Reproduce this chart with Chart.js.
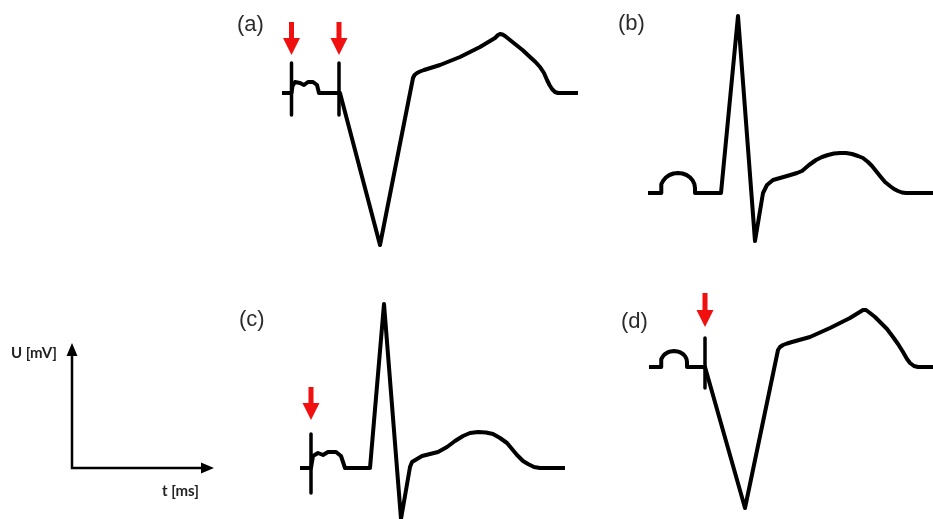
<!DOCTYPE html>
<html>
<head>
<meta charset="utf-8">
<script src="https://cdn.jsdelivr.net/npm/chart.js@4/dist/chart.umd.min.js"></script>
<style>
  body { margin: 0; width: 933px; height: 519px; position: relative; background: #fff; overflow: hidden; }
  canvas { position: absolute; }
  .lbl { position: absolute; font-family: Arial, 'Liberation Sans', sans-serif; font-size: 22px; line-height: 22px; color: #2b2b2b; }
  .ax { position: absolute; font-family: Lato, 'Open Sans', sans-serif; font-weight: bold; font-size: 15px; line-height: 15px; color: #222; }
</style>
</head>
<body>
<canvas id="panelA" width="360" height="260" style="left:230px;top:0px"></canvas>
<canvas id="panelB" width="333" height="260" style="left:600px;top:0px"></canvas>
<canvas id="panelC" width="360" height="239" style="left:230px;top:280px"></canvas>
<canvas id="panelD" width="333" height="239" style="left:600px;top:280px"></canvas>
<canvas id="axesKey" width="230" height="189" style="left:0px;top:330px"></canvas>

<div class="lbl" style="left:237px;top:13px">(a)</div>
<div class="lbl" style="left:618px;top:12px">(b)</div>
<div class="lbl" style="left:239px;top:308px">(c)</div>
<div class="lbl" style="left:621px;top:310px">(d)</div>
<div class="ax" style="left:11px;top:345px">U [mV]</div>
<div class="ax" style="left:162px;top:483px">t [ms]</div>

<script>
// ECG traces: time in ms from the start of each trace, voltage in mV from baseline
const timeA = [0, 19, 21, 26, 36, 44, 52, 62, 70, 74, 116, 196, 262, 265, 270, 276, 284, 316, 356, 396, 426, 432, 436, 441, 446, 456, 466, 481, 496, 507, 516, 524, 530, 535, 540, 546, 552, 592];
const voltA = [0, 0, 0.07, 0.11, 0.10, 0.08, 0.11, 0.11, 0.08, 0, 0, -1.52, 0.15, 0.18, 0.20, 0.215, 0.23, 0.28, 0.36, 0.46, 0.55, 0.58, 0.59, 0.585, 0.57, 0.53, 0.49, 0.43, 0.36, 0.31, 0.26, 0.20, 0.13, 0.08, 0.04, 0.01, 0, 0];

const timeB = [0, 26, 26, 27.2, 30.6, 36, 43, 51.2, 60, 68.8, 77, 84, 89.4, 92.8, 94, 94, 146, 180, 214, 230, 238, 250, 278, 298, 308, 322, 336, 348, 360, 372, 384, 396, 408, 420, 430, 440, 448, 456, 464, 474, 484, 492, 500, 508, 516, 570];
const voltB = [0, 0, 0.05, 0.089, 0.125, 0.156, 0.18, 0.195, 0.20, 0.195, 0.18, 0.156, 0.125, 0.089, 0.05, 0, 0, 1.77, -0.48, 0, 0.08, 0.13, 0.17, 0.20, 0.22, 0.28, 0.33, 0.36, 0.38, 0.395, 0.40, 0.40, 0.39, 0.37, 0.35, 0.31, 0.27, 0.22, 0.17, 0.11, 0.07, 0.04, 0.02, 0.005, 0, 0];

const timeC = [0, 22, 26, 36, 46, 56, 72, 82, 90, 140, 168, 202, 220, 224, 244, 276, 294, 310, 326, 340, 356, 372, 386, 400, 414, 424, 434, 446, 456, 468, 480, 530];
const voltC = [0, 0, 0.12, 0.15, 0.13, 0.16, 0.16, 0.12, 0, 0, 1.64, -0.51, 0.01, 0.06, 0.12, 0.16, 0.21, 0.27, 0.32, 0.35, 0.36, 0.355, 0.34, 0.30, 0.25, 0.19, 0.13, 0.07, 0.04, 0.01, 0, 0];

const timeD = [0, 24, 24, 24.9, 27.5, 31.6, 37, 43.3, 50, 56.7, 63, 68.4, 72.5, 75.1, 76, 76, 112, 192, 258, 262, 268, 276, 286, 322, 362, 402, 428, 434, 442, 452, 462, 476, 488, 498, 508, 516, 522, 530, 538, 568];
const voltD = [0, 0, 0.05, 0.078, 0.105, 0.128, 0.145, 0.156, 0.16, 0.156, 0.145, 0.128, 0.105, 0.078, 0.05, 0, 0, -1.41, 0.17, 0.20, 0.22, 0.235, 0.25, 0.30, 0.39, 0.49, 0.57, 0.57, 0.54, 0.50, 0.45, 0.38, 0.30, 0.23, 0.15, 0.08, 0.04, 0.01, 0, 0];

// stimulus markers (vertical bars) and red arrows above them
const markerTimesA = [19, 114];
const markerTimesC = [22];
const markerTimesD = [112];
const markerTop = { A: 0.30, C: 0.34, D: 0.29 };
const markerBottom = { A: -0.22, C: -0.25, D: -0.21 };
const arrowTip = { A: 0.38, C: 0.48, D: 0.40 };
const arrowTail = { A: 0.71, C: 0.81, D: 0.74 };

const MS_PER_PX = 2;
const MV_PER_PX = 0.01;

// red stimulus arrows, positioned with the panel's scales
const arrowPlugin = {
    id: 'redArrows',
    afterDatasetsDraw(chart, args, opts) {
        const { ctx } = chart;
        const x = chart.scales.x, y = chart.scales.y;
        (opts.times || []).forEach(t => {
            const px = x.getPixelForValue(t);
            const tip = y.getPixelForValue(opts.tip);
            const top = y.getPixelForValue(opts.tail);
            const headH = 17, headW = 17, shaft = 5;
            ctx.save();
            ctx.fillStyle = '#f01010';
            ctx.beginPath();
            ctx.moveTo(px - shaft / 2, top);
            ctx.lineTo(px + shaft / 2, top);
            ctx.lineTo(px + shaft / 2, tip - headH);
            ctx.lineTo(px + headW / 2, tip - headH);
            ctx.lineTo(px, tip);
            ctx.lineTo(px - headW / 2, tip - headH);
            ctx.lineTo(px - shaft / 2, tip - headH);
            ctx.closePath();
            ctx.fill();
            ctx.restore();
        });
    }
};

function makePanel(id, times, volts, origin, markers, key) {
    const canvas = document.getElementById(id);
    const left = parseFloat(canvas.style.left), top = parseFloat(canvas.style.top);
    const w = canvas.width, h = canvas.height;

    const lineStyle = {
        borderColor: '#000',
        borderWidth: 4,
        borderJoinStyle: 'round',
        borderCapStyle: 'butt',
        pointRadius: 0,
        showLine: true,
        tension: 0,
        clip: false
    };

    const datasets = [{
        ...lineStyle,
        data: times.map((t, i) => ({ x: t, y: volts[i] }))
    }];
    markers.forEach(t => {
        datasets.push({
            ...lineStyle,
            borderWidth: 3.5,
            data: [{ x: t, y: markerTop[key] }, { x: t, y: markerBottom[key] }]
        });
    });

    new Chart(canvas, {
        type: 'scatter',
        data: { datasets: datasets },
        options: {
            responsive: false,
            animation: false,
            events: [],
            layout: { padding: 0 },
            plugins: {
                legend: { display: false },
                tooltip: { enabled: false },
                redArrows: markers.length ? { times: markers, tip: arrowTip[key], tail: arrowTail[key] } : {}
            },
            scales: {
                x: {
                    display: false,
                    min: (left - origin[0]) * MS_PER_PX,
                    max: (left + w - origin[0]) * MS_PER_PX
                },
                y: {
                    display: false,
                    max: (origin[1] - top) * MV_PER_PX,
                    min: (origin[1] - top - h) * MV_PER_PX
                }
            }
        },
        plugins: [arrowPlugin]
    });
}

// page position of each trace's (t = 0, U = 0)
makePanel('panelA', timeA, voltA, [282, 93], markerTimesA, 'A');
makePanel('panelB', timeB, voltB, [648, 193], [], 'B');
makePanel('panelC', timeC, voltC, [300, 468], markerTimesC, 'C');
makePanel('panelD', timeD, voltD, [649, 367], markerTimesD, 'D');

// U/t key: two arrows along the chart area's left and bottom edges
const axesKeyPlugin = {
    id: 'axesKey',
    afterDraw(chart) {
        const { ctx, chartArea: a } = chart;
        ctx.save();
        ctx.strokeStyle = '#000';
        ctx.fillStyle = '#000';
        ctx.lineWidth = 2.5;
        ctx.beginPath();
        ctx.moveTo(a.left, a.top + 10);
        ctx.lineTo(a.left, a.bottom);
        ctx.lineTo(a.right - 10, a.bottom);
        ctx.stroke();
        ctx.beginPath();
        ctx.moveTo(a.left, a.top);
        ctx.lineTo(a.left + 5.5, a.top + 13);
        ctx.lineTo(a.left - 5.5, a.top + 13);
        ctx.closePath();
        ctx.fill();
        ctx.beginPath();
        ctx.moveTo(a.right, a.bottom);
        ctx.lineTo(a.right - 13, a.bottom - 5.5);
        ctx.lineTo(a.right - 13, a.bottom + 5.5);
        ctx.closePath();
        ctx.fill();
        ctx.restore();
    }
};

new Chart(document.getElementById('axesKey'), {
    type: 'scatter',
    data: { datasets: [] },
    options: {
        responsive: false,
        animation: false,
        events: [],
        layout: { padding: { left: 72, top: 13, right: 16, bottom: 51 } },
        plugins: { legend: { display: false }, tooltip: { enabled: false } },
        scales: { x: { display: false }, y: { display: false } }
    },
    plugins: [axesKeyPlugin]
});
</script>
</body>
</html>
